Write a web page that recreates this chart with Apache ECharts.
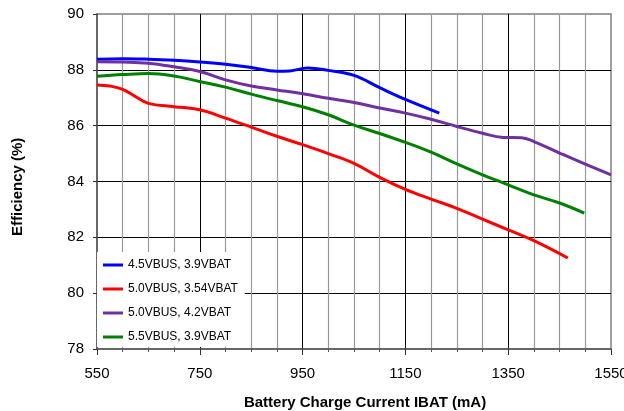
<!DOCTYPE html>
<html>
<head>
<meta charset="utf-8">
<script src="https://cdn.jsdelivr.net/npm/echarts@6/dist/echarts.min.js"></script>
<style>
html,body{margin:0;padding:0;background:#fff;}
#c{width:624px;height:411px;}
</style>
</head>
<body>
<div id="c"></div>
<script>
var seriesNames = ['4.5VBUS, 3.9VBAT', '5.0VBUS, 3.54VBAT', '5.0VBUS, 4.2VBAT', '5.5VBUS, 3.9VBAT'];

var blueX = [550, 600, 650, 700, 750, 800, 850, 900, 925, 960, 1000, 1050, 1100, 1150, 1216];
var blueY = [88.38, 88.40, 88.38, 88.34, 88.28, 88.20, 88.08, 87.95, 87.96, 88.07, 87.98, 87.80, 87.36, 86.94, 86.45];

var redX = [550, 575, 600, 625, 650, 700, 750, 800, 850, 900, 950, 1000, 1050, 1100, 1150, 1200, 1250, 1300, 1350, 1400, 1466];
var redY = [87.46, 87.42, 87.30, 87.04, 86.80, 86.68, 86.57, 86.27, 85.95, 85.62, 85.32, 85.00, 84.65, 84.15, 83.72, 83.37, 83.04, 82.65, 82.27, 81.88, 81.26];

var purpleX = [550, 600, 650, 700, 750, 800, 850, 900, 950, 1000, 1050, 1100, 1150, 1200, 1250, 1300, 1340, 1376, 1400, 1450, 1500, 1550];
var purpleY = [88.29, 88.28, 88.24, 88.11, 87.94, 87.64, 87.42, 87.28, 87.14, 86.98, 86.83, 86.63, 86.45, 86.23, 85.97, 85.73, 85.58, 85.57, 85.43, 85.02, 84.62, 84.24];

var greenX = [550, 600, 650, 700, 750, 800, 850, 900, 950, 1000, 1050, 1100, 1150, 1200, 1250, 1300, 1350, 1400, 1450, 1498];
var greenY = [87.77, 87.83, 87.87, 87.78, 87.58, 87.38, 87.13, 86.90, 86.68, 86.39, 86.02, 85.72, 85.40, 85.05, 84.63, 84.24, 83.88, 83.52, 83.23, 82.87];

var colors = ['#0000ff', '#ff0000', '#7030a0', '#008000'];

function pairs(xs, ys) { return xs.map(function (x, i) { return [x, ys[i]]; }); }
var allData = [pairs(blueX, blueY), pairs(redX, redY), pairs(purpleX, purpleY), pairs(greenX, greenY)];

var font = '"Liberation Sans", Arial, sans-serif';
var chart = echarts.init(document.getElementById('c'), null, {renderer: 'canvas'});
chart.setOption({
  animation: false,
  backgroundColor: '#fff',
  grid: {left: 97, right: 13, top: 14, bottom: 62, containLabel: false, outerBoundsMode: 'none', show: true, borderColor: '#808080', borderWidth: 1.5, backgroundColor: 'transparent'},
  xAxis: {
    type: 'value', min: 550, max: 1550, interval: 200,
    axisLine: {show: true, lineStyle: {color: '#555', width: 1.5}},
    axisTick: {show: true, length: 6, lineStyle: {color: '#333'}},
    minorTick: {show: true, splitNumber: 4, length: 3, lineStyle: {color: '#555'}},
    axisLabel: {margin: 17, color: '#000', fontSize: 15, fontFamily: font, formatter: function (v) { return String(v); }},
    splitLine: {show: true, showMinLine: false, showMaxLine: false, lineStyle: {color: '#000', width: 1}},
    minorSplitLine: {show: true, lineStyle: {color: '#999', width: 1.2}}
  },
  yAxis: {
    type: 'value', min: 78, max: 90, interval: 2,
    axisLine: {show: true, lineStyle: {color: '#555', width: 1.5}},
    axisTick: {show: true, length: 4, lineStyle: {color: '#333'}},
    axisLabel: {margin: 13, color: '#000', fontSize: 15, fontFamily: font, formatter: function (v) { return String(v); }},
    splitLine: {show: true, showMinLine: false, showMaxLine: false, lineStyle: {color: '#000', width: 1}}
  },
  legend: {
    orient: 'vertical', left: 97, top: 252,
    padding: [6, 7, 3, 6],
    backgroundColor: '#fff',
    icon: 'rect', itemWidth: 20, itemHeight: 3, itemGap: 10, itemTextGap: 5,
    textStyle: {fontSize: 12, color: '#000', fontFamily: font, lineHeight: 14},
    data: seriesNames
  },
  graphic: [
    {type: 'text', x: 365, y: 395, style: {text: 'Battery Charge Current IBAT (mA)', font: 'bold 15px ' + font, fill: '#000', align: 'center'}},
    {type: 'text', x: 10, y: 236, rotation: Math.PI / 2, style: {text: 'Efficiency (%)', font: 'bold 15px ' + font, fill: '#000'}}
  ],
  series: allData.map(function (d, i) {
    return {
      name: seriesNames[i], type: 'line', data: d, smooth: 0.4, symbol: 'none',
      lineStyle: {color: colors[i], width: 3}, itemStyle: {color: colors[i]}, z: 3
    };
  })
});
</script>
</body>
</html>
